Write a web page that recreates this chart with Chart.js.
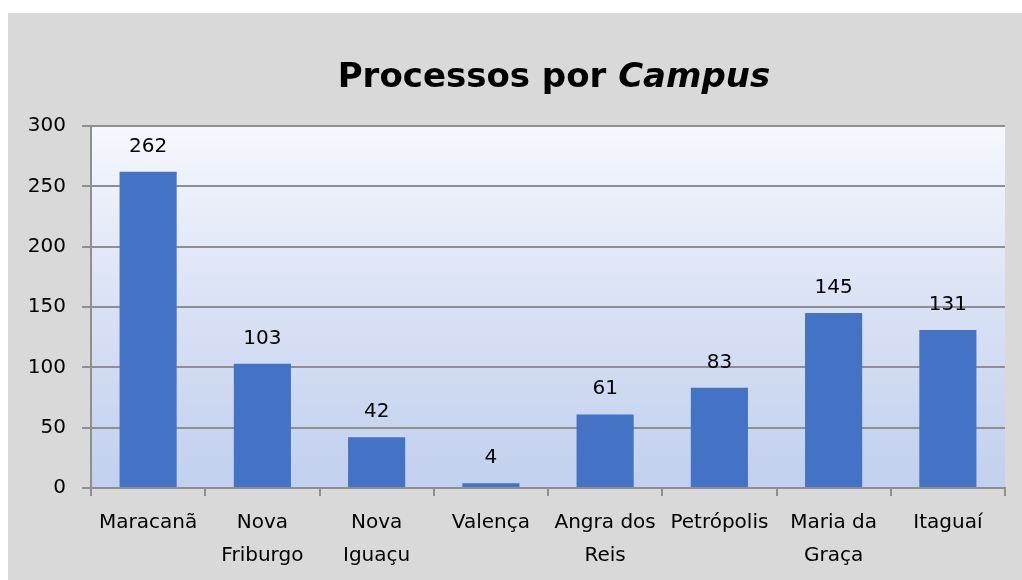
<!DOCTYPE html>
<html lang="pt">
<head>
    <meta charset="UTF-8">
    <title>Processos por Campus</title>
    <script src="https://cdn.jsdelivr.net/npm/chart.js"></script>
    <style>
        body { margin: 0; background: #fff; }
        #box {
            position: absolute; left: 8px; top: 13px;
            width: 1014px; height: 567px;
            background: #d9d9d9;
        }
        #title {
            position: absolute; left: 89px; top: 42px; width: 914px;
            text-align: center; line-height: 40px;
            font-family: "DejaVu Sans", sans-serif; font-weight: bold; font-size: 34px;
            color: #000;
        }
        canvas { position: absolute; left: 0; top: 0; }
    </style>
</head>
<body>
<div id="box">
    <canvas id="campusChart" width="1014" height="567"></canvas>
    <div id="title">Processos por <i>Campus</i></div>
</div>
<script>
    const campi = [['Maracanã'], ['Nova', 'Friburgo'], ['Nova', 'Iguaçu'], ['Valença'],
        ['Angra dos', 'Reis'], ['Petrópolis'], ['Maria da', 'Graça'], ['Itaguaí']];
    const processos = [262, 103, 42, 4, 61, 83, 145, 131];

    const FONT = '"DejaVu Sans", sans-serif';

    // gradient behind the plot area
    const plotBg = {
        id: 'plotBg',
        beforeDraw(chart) {
            const { ctx, chartArea: a } = chart;
            const g = ctx.createLinearGradient(0, a.top, 0, a.bottom);
            g.addColorStop(0, '#f6f8fe');
            g.addColorStop(0.5, '#d9e1f4');
            g.addColorStop(1, '#c1d0ee');
            ctx.save();
            ctx.fillStyle = g;
            ctx.fillRect(a.left, a.top, a.right - a.left, a.bottom - a.top);
            ctx.restore();
        }
    };

    // value labels above bars
    const valueLabels = {
        id: 'valueLabels',
        afterDatasetsDraw(chart) {
            const ctx = chart.ctx;
            const meta = chart.getDatasetMeta(0);
            ctx.save();
            ctx.font = '20px ' + FONT;
            ctx.fillStyle = '#000';
            ctx.textAlign = 'center';
            ctx.textBaseline = 'alphabetic';
            meta.data.forEach((bar, i) => {
                ctx.fillText(processos[i], bar.x, bar.y - 20);
            });
            ctx.restore();
        }
    };

    const ctx = document.getElementById('campusChart').getContext('2d');
    new Chart(ctx, {
        type: 'bar',
        data: {
            labels: campi,
            datasets: [{
                data: processos,
                backgroundColor: '#4472c4',
                barPercentage: 0.5,
                categoryPercentage: 1
            }]
        },
        options: {
            responsive: false,
            animation: false,
            layout: { padding: { top: 113, right: 17, left: 0, bottom: 0 } },
            plugins: { legend: { display: false }, tooltip: { enabled: false } },
            scales: {
                y: {
                    min: 0, max: 300,
                    ticks: { stepSize: 50, color: '#000', padding: 16, font: { family: FONT, size: 20 } },
                    grid: { color: '#8f8f8f', lineWidth: 2, tickLength: 9 },
                    border: { color: '#8f8f8f', width: 2 },
                    afterFit(s) { s.width = 83; }
                },
                x: {
                    ticks: { color: '#000', padding: 10, autoSkip: false, maxRotation: 0,
                        font: { family: FONT, size: 20, lineHeight: 1.65 } },
                    grid: { offset: true, drawOnChartArea: false, color: '#8f8f8f', lineWidth: 2, tickLength: 8 },
                    border: { color: '#8f8f8f', width: 2 },
                    afterFit(s) { s.height = 92; }
                }
            }
        },
        plugins: [plotBg, valueLabels]
    });
</script>
</body>
</html>
